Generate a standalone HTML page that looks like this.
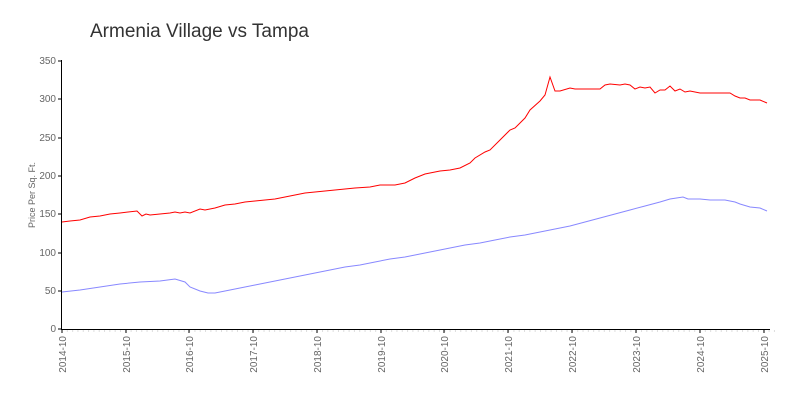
<!DOCTYPE html><html><head><style>body{margin:0;background:#fff}svg text{font-family:"Liberation Sans",sans-serif;fill:#666}</style></head><body>
<svg width="800" height="400" viewBox="0 0 800 400">
<text x="90" y="37" font-size="19" style="fill:#333">Armenia Village vs Tampa</text>
<g font-size="10" text-anchor="end">
<text x="56" y="332">0</text><text x="56" y="256">100</text><text x="56" y="294">50</text><text x="56" y="217">150</text><text x="56" y="179">200</text><text x="56" y="141">250</text><text x="56" y="102">300</text><text x="56" y="64">350</text>
</g>
<text transform="translate(35,195) rotate(-90)" font-size="9" text-anchor="middle">Price Per Sq. Ft.</text>
<g stroke="#ddd" stroke-width="1" id="minor"></g>
<g stroke="#000" stroke-width="1">
<line x1="61.5" y1="60" x2="61.5" y2="330"/>
<line x1="61" y1="329.5" x2="770" y2="329.5"/>
<line x1="58" y1="61" x2="61" y2="61"/><line x1="58" y1="99" x2="61" y2="99"/><line x1="58" y1="138" x2="61" y2="138"/><line x1="58" y1="176" x2="61" y2="176"/><line x1="58" y1="214" x2="61" y2="214"/><line x1="58" y1="253" x2="61" y2="253"/><line x1="58" y1="291" x2="61" y2="291"/><line x1="58" y1="329" x2="61" y2="329"/>
</g>
<g stroke="#000"><line x1="62" y1="329" x2="62" y2="333"/><line x1="126" y1="329" x2="126" y2="333"/><line x1="189" y1="329" x2="189" y2="333"/><line x1="253" y1="329" x2="253" y2="333"/><line x1="317" y1="329" x2="317" y2="333"/><line x1="381" y1="329" x2="381" y2="333"/><line x1="444" y1="329" x2="444" y2="333"/><line x1="508" y1="329" x2="508" y2="333"/><line x1="572" y1="329" x2="572" y2="333"/><line x1="636" y1="329" x2="636" y2="333"/><line x1="700" y1="329" x2="700" y2="333"/><line x1="764" y1="329" x2="764" y2="333"/></g>
<g font-size="10" text-anchor="end">
<text transform="translate(66,336) rotate(-90)">2014-10</text>
<text transform="translate(130,336) rotate(-90)">2015-10</text>
<text transform="translate(193,336) rotate(-90)">2016-10</text>
<text transform="translate(257,336) rotate(-90)">2017-10</text>
<text transform="translate(321,336) rotate(-90)">2018-10</text>
<text transform="translate(385,336) rotate(-90)">2019-10</text>
<text transform="translate(448,336) rotate(-90)">2020-10</text>
<text transform="translate(512,336) rotate(-90)">2021-10</text>
<text transform="translate(576,336) rotate(-90)">2022-10</text>
<text transform="translate(640,336) rotate(-90)">2023-10</text>
<text transform="translate(704,336) rotate(-90)">2024-10</text>
<text transform="translate(768,336) rotate(-90)">2025-10</text>
</g>
<polyline fill="none" stroke="#f00" stroke-width="1" points="62,222 70,221 80,220 90,217 100,216 110,214 120,213 137,211 142,216 146,214 150,215 160,214 170,213 175,212 180,213 185,212 190,213 200,209 205,210 215,208 225,205 235,204 245,202 255,201 265,200 275,199 285,197 295,195 305,193 315,192 325,191 335,190 345,189 355,188 370,187 380,185 395,185 405,183 415,178 425,174 440,171 450,170 460,168 470,163 475,158 485,152 490,150 500,140 510,130 515,128 525,118 530,110 540,101 545,95 550,77 555,91 560,91 570,88 575,89 600,89 605,85 610,84 620,85 625,84 630,85 635,89 640,87 645,88 650,87 655,93 660,90 665,90 670,86 675,91 680,89 685,92 690,91 700,93 705,93 710,93 730,93 735,96 740,98 745,98 750,100 760,100 767,103"/>
<polyline fill="none" stroke="#88f" stroke-width="1" points="62,292 80,290 100,287 120,284 140,282 160,281 175,279 185,282 190,287 200,291 208,293 215,293 225,291 240,288 255,285 270,282 285,279 300,276 315,273 330,270 345,267 360,265 375,262 390,259 405,257 420,254 435,251 450,248 465,245 480,243 495,240 510,237 525,235 540,232 555,229 570,226 585,222 600,218 615,214 630,210 645,206 660,202 670,199 683,197 688,199 700,199 710,200 725,200 735,202 740,204 750,207 760,208 767,211"/>
</svg>
<script>
var g=document.getElementById('minor'),s='';for(var i=0;i<=134;i++){var x=62+i*63.8/12;s+='<line x1="'+x+'" y1="330" x2="'+x+'" y2="332"/>';}g.innerHTML=s;
</script>
</body></html>
